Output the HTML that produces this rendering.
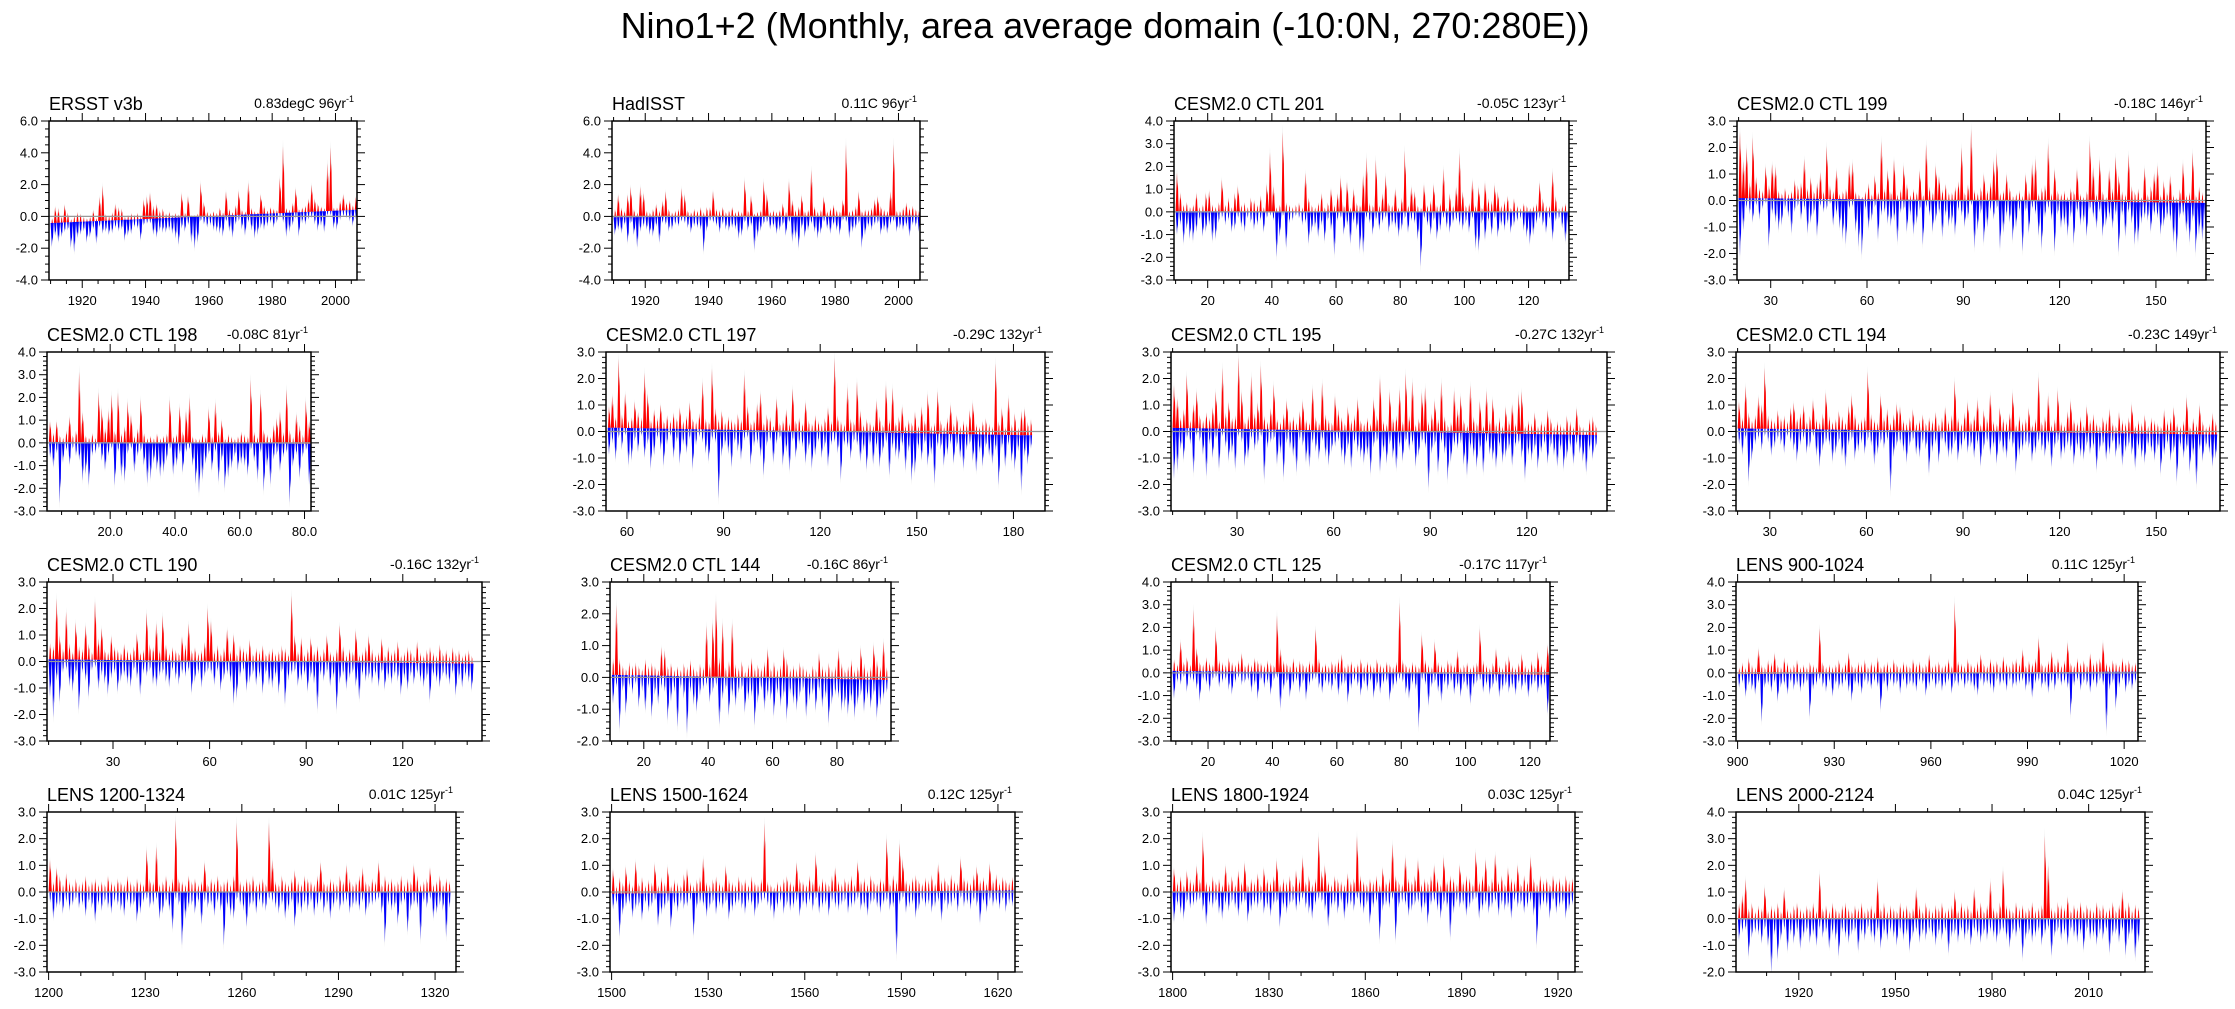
<!DOCTYPE html>
<html><head><meta charset="utf-8"><title>Nino1+2 monthly panels</title>
<style>
html,body{margin:0;padding:0;background:#fff;}
svg{display:block;font-family:"Liberation Sans",Arial,sans-serif;}
</style></head>
<body>
<svg id="fig" xmlns="http://www.w3.org/2000/svg" width="2235" height="1009" viewBox="0 0 2235 1009">
<rect x="0" y="0" width="2235" height="1009" fill="#fff"/>
<text x="1105" y="38" font-size="36" text-anchor="middle" fill="#000">Nino1+2 (Monthly, area average domain (-10:0N, 270:280E))</text>
</svg>
<script>
// ---- data: annual warm peaks (max) and cold troughs (min), relative to trend line ----
const ersstMax=[0.3,1.0,0.9,0.4,1.1,0.6,0.2,0.4,0.6,0.5,0.3,0.2,0.3,0.7,0.2,1.5,2.2,0.4,0.3,0.5,1.0,0.8,0.7,0.2,0.3,0.4,0.3,0.4,0.2,1.2,1.4,1.6,0.8,0.9,0.5,0.6,0.3,0.4,0.2,0.3,0.2,1.5,0.3,1.3,0.1,0.1,0.2,2.1,0.9,0.3,0.2,0.3,0.2,0.5,0.2,1.5,0.4,0.2,0.6,1.5,0.3,0.2,2.0,0.4,0.2,0.1,1.2,0.5,0.2,0.4,0.3,0.2,2.2,4.2,0.3,0.2,0.6,1.5,0.2,0.3,0.4,0.8,1.7,0.8,0.5,0.3,0.2,3.0,4.0,0.2,0.2,0.6,1.0,0.5,0.6,0.3,0.8];
const ersstMin=[-1.5,-0.8,-1.2,-0.9,-0.6,-0.5,-1.6,-1.9,-1.0,-0.8,-0.6,-1.3,-1.0,-0.5,-1.4,-0.4,-0.8,-0.7,-0.9,-0.8,-0.5,-0.7,-0.6,-1.3,-1.0,-0.9,-0.5,-0.6,-1.3,-0.4,-0.3,-0.3,-1.0,-1.2,-0.8,-0.9,-0.9,-0.8,-1.0,-1.3,-1.7,-0.7,-0.9,-0.5,-1.6,-2.0,-1.6,-0.3,-0.5,-0.7,-0.6,-0.9,-1.0,-1.1,-1.3,-0.4,-1.0,-1.4,-0.6,-0.4,-0.9,-1.3,-0.5,-1.0,-1.5,-1.3,-0.9,-1.0,-0.8,-0.6,-0.9,-0.6,-0.3,-0.6,-1.5,-1.2,-0.8,-0.4,-1.5,-0.7,-0.8,-0.5,-0.4,-0.8,-1.2,-0.9,-1.3,-0.3,-0.3,-1.1,-1.2,-0.6,-0.4,-0.5,-0.7,-1.0,-0.6];
const hadMax=[0.5,1.4,0.6,0.4,1.4,1.9,0.5,0.3,1.9,1.5,0.4,0.3,0.5,0.8,0.4,1.0,1.6,0.5,0.3,0.4,0.5,1.8,1.4,0.4,0.3,0.5,0.4,0.6,0.3,0.6,0.6,1.6,0.5,0.4,0.6,0.3,0.4,0.6,0.3,0.4,0.3,2.3,0.4,1.3,0.2,0.3,0.4,2.2,1.4,0.3,0.4,0.3,0.4,0.8,0.3,2.2,1.0,0.4,0.6,1.3,0.3,0.4,2.9,0.6,0.3,0.4,1.2,0.3,0.5,0.7,0.4,0.3,1.0,4.5,0.3,0.4,0.6,1.5,0.3,0.4,0.4,0.5,1.0,1.2,0.6,0.4,0.3,1.5,4.5,0.3,0.3,0.5,0.8,0.5,0.6,0.4,0.3];
const hadMin=[-1.1,-0.8,-1.0,-0.5,-1.6,-0.4,-1.1,-1.9,-0.9,-0.6,-0.8,-1.1,-1.2,-0.6,-1.6,-0.4,-0.5,-0.9,-0.8,-0.5,-0.6,-0.3,-0.4,-0.7,-1.0,-0.6,-0.7,-0.8,-2.2,-0.9,-0.3,-0.4,-0.6,-1.0,-0.5,-0.8,-0.9,-0.7,-0.8,-1.4,-1.2,-0.4,-0.9,-0.6,-2.1,-1.3,-0.9,-0.5,-0.4,-0.8,-0.7,-1.1,-0.9,-0.6,-1.2,-0.4,-1.6,-1.4,-2.0,-0.8,-1.3,-0.9,-0.5,-1.0,-1.4,-1.1,-0.4,-0.8,-1.1,-0.6,-0.9,-1.2,-0.3,-0.4,-1.4,-1.0,-0.8,-0.5,-2.0,-1.2,-0.7,-0.9,-0.6,-0.5,-1.2,-0.9,-1.1,-0.6,-0.4,-1.0,-0.8,-0.9,-0.7,-1.3,-0.6,-0.7,-1.0];
const c201Max=[1.7,0.8,0.3,0.4,0.2,0.3,0.8,0.2,0.3,0.8,0.9,0.3,0.2,0.4,1.4,0.3,0.6,0.2,0.8,1.1,0.3,0.4,0.2,0.6,0.5,0.3,0.7,0.2,1.2,2.6,1.1,0.2,0.3,3.5,0.4,0.3,0.2,0.3,0.4,0.2,1.7,0.6,0.3,0.2,0.4,0.8,0.2,0.4,1.0,0.3,0.8,1.5,0.3,1.3,0.2,1.0,0.4,0.3,1.6,2.4,0.4,0.3,2.3,0.3,0.8,1.6,0.4,0.3,1.0,0.2,0.6,2.7,0.3,1.1,0.9,0.3,0.2,1.2,0.3,0.5,1.2,0.3,0.4,1.9,0.2,0.8,0.3,1.1,2.6,0.9,0.3,0.4,1.4,0.3,1.1,0.2,1.3,0.6,0.5,1.2,0.9,0.3,0.5,0.7,0.2,0.6,0.3,0.2,0.4,0.3,0.2,0.3,0.4,1.3,0.6,0.3,0.3,1.8,0.7,0.2,0.3,0.4,0.2];
const c201Min=[-1.0,-0.6,-1.4,-0.8,-1.2,-1.3,-0.9,-0.4,-1.1,-0.9,-0.6,-1.3,-1.2,-0.5,-0.3,-0.6,-0.4,-0.9,-0.8,-0.3,-0.7,-0.9,-0.3,-0.5,-0.8,-0.6,-0.4,-0.9,-0.3,-0.2,-0.4,-2.0,-1.1,-0.2,-1.6,-0.5,-0.4,-0.2,-0.3,-0.6,-0.5,-1.4,-0.9,-0.7,-1.1,-0.6,-1.3,-0.4,-0.8,-1.9,-0.4,-0.3,-1.0,-0.6,-1.4,-0.5,-0.8,-1.7,-1.8,-0.3,-0.5,-1.0,-0.4,-0.8,-0.5,-0.3,-0.9,-0.6,-0.7,-1.1,-0.8,-0.3,-0.9,-0.4,-0.5,-1.2,-2.4,-0.3,-0.6,-1.0,-0.4,-1.2,-0.8,-0.3,-0.7,-0.9,-0.5,-0.4,-0.6,-0.8,-0.5,-0.9,-0.3,-1.6,-1.7,-0.5,-1.2,-0.4,-1.0,-0.3,-1.1,-0.6,-0.8,-0.5,-0.9,-0.6,-0.4,-0.3,-0.8,-1.1,-1.4,-1.0,-0.5,-0.3,-0.6,-0.9,-0.3,-1.2,-0.4,-0.3,-0.7,-1.3,-0.9];
const c199Max=[2.5,1.4,1.9,0.6,2.3,0.8,0.4,0.3,1.2,0.5,1.3,1.2,0.3,0.2,0.4,0.2,0.3,0.7,0.5,0.6,1.5,0.4,0.8,0.3,0.6,1.0,0.3,2.0,0.5,0.3,1.1,0.2,0.3,0.4,1.3,1.4,0.3,0.2,0.1,0.3,0.6,0.2,0.9,0.3,2.2,0.4,1.1,0.3,1.5,0.2,0.4,1.3,0.6,0.2,0.4,0.3,1.1,0.2,2.1,0.5,0.3,1.3,0.9,0.4,0.6,0.3,0.3,0.5,0.7,2.0,0.3,0.6,2.7,0.4,0.3,0.5,1.0,0.4,0.7,1.5,1.8,0.3,0.4,1.0,0.5,0.2,0.3,0.4,0.2,1.0,0.4,1.4,1.6,0.3,0.5,0.6,2.2,0.3,1.2,0.4,0.3,0.4,0.2,0.5,0.4,1.2,0.3,0.2,0.4,2.3,1.3,0.3,1.6,0.4,0.2,1.2,0.5,1.7,1.0,0.4,0.3,1.8,0.6,0.4,0.5,0.2,1.3,0.3,0.6,1.1,1.4,0.3,0.8,0.4,1.0,0.3,0.2,0.5,1.5,0.3,0.4,1.9,0.3,0.6,0.4,0.3];
const c199Min=[-2.2,-1.2,-0.4,-0.6,-0.9,-0.3,-0.8,-0.4,-0.2,-1.8,-0.6,-0.9,-1.2,-1.0,-0.4,-0.7,-1.3,-0.5,-0.3,-0.8,-0.4,-1.3,-0.9,-0.6,-1.4,-0.3,-0.5,-0.4,-0.2,-1.0,-0.6,-1.1,-1.5,-1.7,-0.4,-0.3,-1.2,-1.8,-2.1,-0.4,-1.1,-0.8,-0.3,-1.5,-0.6,-0.5,-0.9,-1.0,-0.8,-1.6,-0.5,-0.4,-1.2,-0.6,-1.3,-0.9,-0.4,-1.7,-0.3,-0.6,-1.2,-0.8,-0.5,-1.4,-0.6,-1.0,-0.9,-1.3,-0.4,-0.6,-1.0,-0.7,-0.2,-1.8,-1.1,-0.5,-1.6,-1.0,-0.4,-0.7,-0.3,-1.8,-1.2,-0.6,-0.8,-1.5,-1.0,-0.4,-1.9,-0.4,-1.2,-0.3,-0.5,-1.3,-1.8,-0.6,-0.3,-0.7,-1.9,-0.5,-1.0,-0.9,-1.3,-0.6,-1.6,-0.4,-0.9,-0.8,-1.3,-0.3,-0.6,-1.0,-0.4,-1.3,-0.9,-0.6,-1.0,-0.5,-1.9,-0.5,-1.3,-0.4,-0.8,-1.6,-1.5,-0.8,-0.6,-0.7,-1.1,-0.5,-0.6,-1.2,-0.9,-0.6,-0.7,-1.5,-1.9,-0.6,-0.5,-1.1,-1.5,-0.7,-1.9,-1.2,-1.4,-1.0];
const c198Max=[0.9,0.4,0.9,0.3,0.2,0.5,1.1,0.3,0.5,3.1,1.3,0.3,0.2,0.4,0.2,2.2,1.5,0.6,1.4,2.1,0.5,2.2,0.4,0.7,1.8,1.2,0.3,0.6,1.9,0.4,0.2,0.3,0.2,0.4,0.2,0.3,0.4,1.9,0.3,0.4,1.6,0.5,1.4,2.0,0.3,0.2,0.2,0.4,0.3,1.5,0.3,1.8,0.5,1.0,0.2,0.4,0.3,0.2,0.3,0.5,0.4,0.3,2.8,0.5,0.3,2.2,0.6,0.4,0.3,0.8,1.1,1.4,0.5,2.4,0.6,0.3,1.3,0.8,0.4,1.9,1.0];
const c198Min=[-0.7,-1.1,-0.5,-2.7,-0.9,-0.4,-1.0,-0.3,-0.6,-0.8,-1.7,-1.4,-1.9,-0.6,-0.5,-0.3,-0.8,-1.2,-0.6,-0.3,-1.9,-0.4,-1.5,-1.7,-0.5,-0.3,-1.3,-0.6,-0.4,-1.0,-1.8,-1.6,-0.9,-1.2,-1.5,-1.3,-0.8,-0.3,-1.4,-1.0,-0.5,-1.3,-0.4,-0.3,-1.0,-1.8,-2.2,-1.6,-0.9,-0.5,-1.2,-0.4,-1.7,-0.8,-2.0,-1.5,-1.1,-0.6,-1.2,-0.9,-1.0,-1.4,-0.3,-0.8,-1.6,-0.4,-2.1,-1.0,-1.8,-0.7,-0.5,-1.2,-0.6,-0.4,-2.6,-1.0,-0.5,-1.5,-0.6,-0.3,-1.8];
const c197Max=[0.8,1.2,0.4,2.6,0.5,1.3,0.3,0.4,1.0,0.6,0.4,2.1,1.3,0.3,0.7,0.4,0.9,0.3,0.5,0.3,0.6,0.4,0.8,0.3,0.5,1.0,0.4,0.3,0.6,1.8,0.4,0.3,2.3,0.8,0.4,0.7,0.3,0.5,0.4,0.3,0.6,0.4,2.1,0.9,0.3,0.4,1.0,1.4,0.3,0.6,0.5,0.2,1.2,0.3,0.4,0.8,0.3,1.6,0.4,0.5,0.3,1.1,0.4,0.3,0.6,0.4,0.3,0.5,0.9,0.4,2.8,0.6,0.4,0.3,1.7,0.5,0.4,1.9,0.8,0.3,0.5,0.4,0.3,1.2,0.6,0.3,1.8,0.5,1.7,0.4,0.6,1.0,0.3,0.5,0.4,0.8,0.3,1.0,0.5,1.5,0.3,0.4,1.6,0.5,0.3,0.6,1.1,0.4,0.7,0.3,0.5,0.4,0.9,1.2,0.4,0.3,0.5,0.6,0.4,0.3,2.7,0.5,1.0,0.3,1.4,0.4,0.8,0.3,0.9,1.0,0.5,0.6];
const c197Min=[-1.0,-0.6,-1.2,-0.4,-0.8,-0.3,-1.4,-1.2,-0.5,-0.9,-0.3,-1.1,-0.6,-1.5,-1.0,-0.4,-0.8,-1.4,-0.6,-0.3,-1.1,-0.5,-1.3,-0.6,-0.9,-0.4,-1.5,-0.6,-0.3,-0.5,-0.9,-1.2,-0.4,-0.5,-2.6,-1.0,-0.6,-0.9,-1.4,-0.5,-0.8,-1.1,-0.4,-0.3,-1.3,-0.6,-0.5,-1.0,-1.7,-0.6,-0.4,-1.2,-0.5,-0.3,-1.3,-0.8,-1.5,-0.4,-1.0,-0.5,-0.6,-1.2,-0.7,-1.4,-0.9,-0.4,-1.0,-0.6,-1.3,-0.5,-0.4,-0.8,-1.8,-0.5,-0.6,-1.0,-0.4,-0.5,-1.1,-0.7,-1.4,-0.5,-1.2,-0.6,-1.3,-0.8,-0.4,-1.6,-0.6,-0.9,-1.0,-0.5,-1.4,-0.7,-1.8,-1.5,-0.6,-1.0,-0.4,-1.2,-0.8,-1.9,-0.5,-0.6,-1.2,-0.8,-0.4,-1.1,-0.5,-0.9,-1.3,-0.6,-0.4,-1.0,-1.4,-0.7,-1.2,-0.5,-0.8,-1.1,-0.6,-1.9,-0.5,-1.2,-0.4,-1.0,-1.3,-0.6,-2.1,-0.8,-1.1,-0.5];
const c195Max=[1.6,1.1,0.4,0.7,2.0,0.3,0.9,1.4,0.5,0.3,0.6,0.4,0.8,1.4,0.3,2.3,0.6,1.0,0.4,0.5,2.7,1.4,0.3,0.5,2.0,0.6,1.0,2.4,0.5,0.3,0.8,1.7,0.4,0.3,0.6,1.1,0.4,0.5,0.3,0.7,1.1,0.4,0.3,1.6,0.5,0.3,1.8,0.6,0.4,0.3,1.3,0.8,0.5,0.3,0.9,0.4,0.6,1.2,0.4,0.3,0.5,0.3,1.2,0.6,2.0,0.4,0.3,1.5,0.5,0.6,1.6,0.4,2.2,0.6,1.9,0.3,0.5,1.5,1.7,0.4,0.7,1.2,0.5,1.9,0.6,0.3,0.4,1.6,0.9,1.4,0.5,0.3,1.8,0.6,0.4,1.2,0.3,1.6,0.5,1.3,0.4,0.6,0.3,1.0,0.5,1.1,0.4,1.5,1.6,0.3,0.5,0.4,0.8,0.3,0.5,0.4,0.9,0.6,0.3,0.5,0.4,0.3,0.7,0.5,0.3,1.0,0.4,0.3,0.2,0.6,0.7,0.4];
const c195Min=[-1.9,-1.6,-0.8,-1.2,-0.4,-0.6,-1.7,-0.3,-0.5,-1.0,-1.8,-0.6,-1.1,-0.4,-1.5,-0.3,-0.7,-1.2,-0.9,-1.5,-0.3,-0.5,-1.4,-1.1,-0.4,-0.8,-0.6,-0.3,-1.9,-0.7,-0.5,-0.4,-1.3,-0.9,-1.8,-0.5,-0.7,-1.0,-1.6,-0.4,-0.6,-1.2,-1.4,-0.5,-0.8,-1.1,-0.4,-1.0,-1.3,-0.8,-0.6,-0.4,-1.0,-1.3,-0.7,-1.4,-0.5,-0.8,-1.0,-1.2,-0.9,-1.6,-0.6,-0.4,-1.5,-0.8,-1.2,-0.5,-1.0,-1.4,-0.6,-1.1,-0.4,-0.7,-0.5,-1.3,-0.9,-0.4,-0.6,-2.1,-0.8,-0.5,-1.5,-0.4,-0.8,-1.8,-1.1,-0.5,-0.6,-0.4,-1.2,-1.6,-0.6,-0.9,-1.3,-0.7,-1.5,-0.4,-0.8,-1.0,-1.3,-0.5,-1.1,-0.9,-0.6,-1.2,-0.5,-0.4,-0.9,-1.7,-0.8,-1.0,-0.6,-1.3,-0.7,-0.4,-1.1,-0.5,-0.8,-1.2,-0.6,-1.3,-0.9,-0.5,-1.1,-0.4,-0.7,-1.0,-1.4,-0.6,-0.9,-0.5];
const c194Max=[1.0,0.4,1.6,0.6,0.3,0.5,1.2,0.9,2.3,0.5,0.4,0.3,0.7,0.4,0.5,0.3,0.8,1.0,0.4,0.6,0.9,0.3,0.5,1.1,0.4,0.3,0.6,1.4,0.5,0.3,0.4,0.7,0.5,0.3,0.9,1.3,0.6,0.3,0.4,0.5,2.2,0.6,0.4,0.3,1.3,0.5,0.8,0.3,0.6,1.0,0.9,0.4,0.3,0.5,0.8,0.3,0.4,0.6,0.3,0.5,0.4,0.7,0.3,0.5,0.9,0.4,0.6,1.9,0.5,0.3,0.7,1.1,0.4,0.6,1.2,0.3,0.8,0.5,1.4,0.4,0.3,0.9,0.5,0.4,0.7,1.5,0.3,0.6,0.4,0.5,0.9,0.3,0.5,2.1,0.4,0.6,1.4,0.3,0.5,1.6,0.4,0.3,0.8,1.2,0.5,0.4,0.6,0.3,1.0,0.5,0.7,0.4,0.3,0.6,0.5,0.9,0.4,0.3,0.8,0.5,0.4,0.6,1.1,0.3,0.5,0.4,0.7,0.3,0.6,0.5,0.4,0.3,0.9,0.5,0.6,1.0,0.4,0.3,0.5,1.4,0.3,0.6,0.4,1.1,0.5,0.3,0.4,0.8,0.5];
const c194Min=[-0.6,-1.0,-0.4,-2.0,-1.2,-0.6,-0.4,-0.8,-0.3,-0.5,-1.0,-0.7,-0.4,-0.6,-0.9,-0.3,-0.5,-0.8,-1.2,-0.6,-0.4,-0.9,-0.7,-0.3,-1.0,-1.4,-0.8,-0.5,-0.6,-1.2,-0.9,-0.5,-1.0,-1.4,-0.6,-0.4,-1.1,-0.8,-0.5,-0.9,-0.4,-0.6,-1.3,-0.9,-0.5,-0.7,-0.4,-2.3,-1.0,-0.6,-0.5,-0.8,-1.2,-0.6,-0.4,-0.9,-1.0,-0.5,-0.7,-1.6,-0.8,-0.5,-1.2,-0.4,-0.6,-1.0,-0.9,-0.5,-1.1,-0.7,-0.4,-0.8,-0.6,-1.0,-0.5,-1.3,-0.7,-0.4,-0.9,-0.6,-1.2,-0.5,-0.8,-1.0,-0.4,-0.6,-1.5,-0.9,-0.7,-0.5,-0.6,-1.1,-0.8,-0.4,-0.7,-0.9,-0.5,-1.3,-0.6,-0.4,-1.0,-0.8,-0.5,-0.7,-1.2,-0.6,-0.9,-1.0,-0.5,-0.8,-0.6,-1.4,-0.7,-0.5,-1.0,-0.8,-0.4,-0.9,-0.6,-1.2,-0.7,-0.5,-0.8,-1.3,-0.6,-0.9,-1.1,-0.5,-0.7,-1.0,-0.6,-1.5,-0.8,-0.4,-1.0,-0.7,-1.8,-0.5,-0.9,-0.6,-1.4,-0.8,-1.9,-0.6,-1.0,-0.5,-0.7,-1.2,-0.9];
const c190Max=[0.6,0.5,2.3,0.9,0.4,1.8,0.6,0.3,1.4,0.5,0.4,1.3,0.6,0.3,2.2,0.8,1.2,0.4,0.3,0.9,0.5,0.4,0.3,0.6,0.4,0.3,0.5,1.0,0.3,0.4,1.8,0.6,0.5,1.4,0.4,1.7,0.6,0.3,0.5,0.4,0.3,0.9,0.6,1.4,0.4,0.5,0.3,0.4,0.7,2.0,1.5,0.4,0.6,0.3,0.5,1.2,0.4,1.0,0.3,0.6,0.5,0.4,0.8,0.3,0.5,0.4,0.6,0.3,0.4,0.5,0.3,0.4,0.6,0.5,0.3,2.5,1.0,0.4,0.9,0.3,0.5,0.9,0.4,0.6,0.3,0.5,1.0,0.4,0.3,0.5,1.4,0.6,0.3,0.5,0.4,1.2,0.3,0.4,0.6,1.0,0.5,0.3,0.4,0.9,0.3,0.6,0.4,0.5,0.8,0.3,0.4,0.6,0.5,0.3,0.8,0.4,0.3,0.5,0.6,0.4,0.3,0.7,0.4,0.5,0.3,0.6,0.4,0.5,0.3,0.4,0.5,0.3];
const c190Min=[-1.4,-2.2,-0.8,-1.6,-0.5,-0.4,-1.0,-1.2,-0.6,-1.9,-0.5,-0.8,-1.4,-0.4,-0.3,-1.1,-0.6,-0.9,-1.3,-0.7,-0.5,-1.2,-0.8,-0.6,-0.9,-1.0,-0.4,-0.7,-1.3,-0.5,-0.6,-0.4,-0.9,-1.0,-0.6,-0.5,-0.8,-1.0,-0.4,-0.7,-0.9,-0.5,-0.6,-0.4,-1.2,-0.8,-0.5,-1.0,-0.6,-0.4,-0.5,-0.9,-0.4,-1.1,-0.7,-0.5,-0.8,-1.6,-1.4,-0.6,-0.4,-1.1,-0.8,-0.5,-0.9,-0.6,-1.2,-0.5,-0.9,-1.0,-0.6,-1.2,-0.4,-1.6,-0.7,-0.5,-0.4,-0.9,-0.7,-0.5,-1.1,-0.6,-0.8,-1.8,-0.5,-0.7,-0.4,-0.9,-0.6,-1.8,-0.8,-0.5,-1.0,-0.6,-0.4,-0.9,-1.4,-0.5,-0.7,-0.6,-0.8,-0.5,-0.9,-0.4,-1.0,-0.6,-0.8,-0.5,-0.7,-1.2,-0.6,-1.0,-0.5,-0.8,-0.4,-0.7,-0.9,-0.6,-1.4,-0.5,-0.7,-0.9,-0.5,-0.6,-0.8,-0.4,-1.2,-0.6,-0.9,-0.5,-0.7,-1.0];
const c144Max=[0.5,2.2,0.5,0.3,0.2,0.4,0.3,0.4,0.3,0.2,0.5,0.3,0.4,0.3,0.2,0.9,0.8,0.3,0.4,0.2,0.3,0.2,0.4,0.3,0.5,0.3,0.2,0.4,0.3,1.6,0.4,1.7,2.4,0.6,1.7,0.3,0.5,1.7,0.4,0.3,0.5,0.2,0.4,0.6,0.3,0.4,0.3,0.5,0.9,0.3,0.5,0.3,0.4,0.9,0.6,0.3,0.4,0.3,0.5,0.4,0.3,0.2,0.4,0.3,0.8,0.4,0.3,0.5,0.3,0.4,0.9,0.5,0.3,0.4,0.6,0.3,0.4,1.0,0.5,0.3,0.4,1.1,0.6,0.4,1.2,0.4];
const c144Min=[-0.9,-0.4,-1.7,-0.5,-1.2,-0.4,-0.6,-0.3,-1.0,-0.5,-1.1,-0.4,-1.3,-0.6,-0.9,-0.4,-0.5,-1.4,-0.8,-0.5,-1.6,-0.4,-0.7,-1.8,-0.5,-0.9,-1.1,-0.6,-0.4,-0.3,-0.8,-0.5,-0.3,-1.5,-0.7,-0.4,-1.2,-0.6,-0.9,-0.5,-0.4,-1.1,-0.7,-0.6,-1.5,-0.8,-0.4,-1.0,-0.6,-0.7,-1.2,-0.5,-0.9,-0.6,-1.3,-0.5,-0.8,-1.0,-0.6,-0.4,-1.2,-0.7,-0.5,-1.0,-0.4,-0.9,-0.6,-1.4,-0.8,-0.5,-0.6,-1.0,-0.9,-1.1,-0.7,-1.2,-0.8,-0.5,-1.0,-0.6,-0.9,-0.5,-1.2,-0.8,-0.6,-0.4];
const c125Max=[0.5,0.3,1.3,0.4,0.6,0.3,2.7,1.0,0.4,0.3,0.6,0.4,0.3,1.8,0.5,0.4,0.3,0.6,0.4,0.3,0.5,0.8,0.3,0.4,0.3,0.6,0.5,0.4,0.3,0.5,0.4,0.3,2.5,1.0,0.5,0.4,0.3,0.6,0.3,0.5,0.4,0.3,0.5,0.4,1.9,0.6,0.3,0.4,0.3,0.5,0.4,0.6,0.8,0.3,0.4,0.5,0.3,0.4,0.6,0.3,0.5,0.4,0.3,0.6,0.4,0.3,0.5,0.4,0.3,0.5,3.1,0.6,0.4,0.3,0.5,0.4,0.3,1.7,0.6,0.4,0.3,1.4,0.5,0.4,0.3,0.6,0.5,0.4,1.0,0.3,0.4,0.5,0.3,0.4,0.5,2.0,0.6,0.4,0.3,0.5,1.1,0.4,0.3,0.6,0.8,0.4,0.3,0.5,0.9,0.4,0.3,0.6,0.4,1.0,0.5,0.3,1.3];
const c125Min=[-1.2,-0.5,-0.6,-0.3,-0.9,-0.4,-0.5,-0.8,-1.3,-0.4,-0.6,-0.9,-0.4,-0.3,-0.7,-0.5,-0.4,-0.8,-1.0,-0.5,-0.3,-0.6,-0.5,-0.4,-0.9,-0.6,-1.2,-0.4,-0.7,-0.5,-1.0,-0.4,-0.3,-1.6,-0.8,-0.5,-1.1,-0.6,-0.4,-0.9,-0.5,-1.2,-0.6,-0.4,-0.3,-0.7,-0.9,-0.5,-0.6,-0.8,-0.4,-1.0,-0.6,-0.5,-1.3,-0.7,-0.4,-0.6,-1.0,-0.5,-0.8,-0.4,-1.1,-0.6,-0.9,-0.5,-0.4,-1.2,-0.7,-0.5,-0.3,-0.4,-0.9,-1.1,-0.5,-0.7,-2.4,-0.3,-0.5,-1.4,-0.6,-0.4,-0.8,-1.2,-0.5,-0.7,-0.4,-0.9,-0.6,-1.0,-0.5,-0.7,-1.3,-0.6,-0.4,-0.3,-0.8,-0.5,-0.9,-0.6,-0.4,-1.0,-0.7,-0.5,-0.8,-0.6,-0.9,-0.4,-0.7,-0.5,-1.0,-0.6,-0.4,-0.8,-0.6,-0.5,-1.7];
const l900Max=[0.3,0.5,0.3,0.7,0.4,0.3,1.1,0.4,0.3,0.6,0.5,0.9,0.4,0.3,0.7,0.5,0.3,0.4,0.6,0.3,0.4,0.3,0.5,0.4,0.3,2.0,0.5,0.3,0.4,0.3,0.4,0.6,0.3,0.5,0.9,0.4,0.3,0.5,0.4,0.6,0.3,0.5,0.4,0.7,0.3,0.4,0.5,0.3,0.6,0.4,0.3,0.5,0.4,0.3,0.6,0.4,0.5,0.3,0.4,0.8,0.3,0.4,0.5,0.3,0.4,0.6,0.3,3.1,0.5,0.4,0.3,0.6,0.4,0.3,0.5,0.8,0.4,0.3,0.6,0.4,0.5,0.3,0.7,0.4,0.3,0.5,0.6,0.4,1.0,0.3,0.5,0.4,0.6,1.5,0.4,0.3,0.5,0.9,0.4,0.6,0.3,0.5,1.3,0.4,0.3,0.6,0.4,0.5,0.3,0.8,0.4,0.5,0.6,1.3,0.4,0.3,0.5,0.4,0.3,0.6,0.4,0.5,0.3,0.4,0.5];
const l900Min=[-0.6,-0.4,-1.0,-0.5,-0.7,-0.9,-0.4,-2.1,-0.6,-0.5,-0.8,-0.4,-1.2,-0.6,-0.5,-0.9,-0.4,-0.7,-0.5,-0.8,-0.6,-0.4,-1.9,-0.7,-0.5,-0.3,-0.6,-0.8,-0.4,-1.0,-0.5,-0.7,-0.6,-0.4,-0.8,-1.2,-0.5,-0.6,-0.9,-0.4,-0.5,-0.7,-0.4,-0.6,-1.6,-0.5,-0.8,-0.4,-0.6,-0.5,-0.9,-0.4,-0.7,-0.5,-0.6,-0.8,-0.4,-0.5,-1.0,-0.6,-0.4,-0.7,-0.5,-0.8,-0.6,-0.4,-0.9,-0.5,-0.6,-0.4,-0.7,-0.5,-0.6,-0.8,-1.0,-0.4,-0.6,-0.5,-0.7,-0.9,-0.4,-0.6,-0.5,-0.8,-0.4,-0.7,-0.6,-0.5,-0.4,-0.8,-0.6,-1.1,-0.5,-0.4,-0.7,-0.6,-0.9,-0.5,-0.8,-0.4,-0.6,-0.5,-0.7,-1.9,-0.6,-0.4,-0.8,-0.5,-0.6,-0.9,-0.5,-0.7,-0.4,-0.6,-2.6,-0.8,-0.5,-1.6,-0.7,-0.4,-0.9,-0.6,-0.8,-0.5,-0.7];
const l1200Max=[1.2,0.4,0.9,0.6,0.3,0.7,0.4,0.3,0.5,0.3,0.4,0.6,0.3,0.4,0.5,0.3,0.4,0.3,0.6,0.4,0.3,0.5,0.4,0.3,0.6,0.4,0.3,0.5,0.4,0.3,1.6,0.5,0.4,1.7,0.3,0.4,0.6,0.3,0.5,2.7,0.5,0.4,0.3,0.6,0.4,0.5,0.3,0.4,1.1,0.3,0.5,0.4,0.6,0.3,0.4,0.5,0.3,0.6,2.6,0.4,0.3,0.5,0.4,0.6,0.3,0.4,0.5,0.3,2.6,1.2,0.4,0.3,0.6,0.4,0.3,0.5,0.8,0.4,0.3,0.6,0.5,0.4,0.3,0.6,1.1,0.4,0.3,0.5,0.4,0.3,0.6,0.4,1.0,0.5,0.3,0.4,0.6,0.9,0.4,0.3,0.5,0.4,1.1,0.3,0.6,0.4,0.5,0.3,0.4,0.6,0.3,0.5,0.4,1.0,0.6,0.3,0.4,0.5,0.9,0.3,0.4,0.6,0.3,0.5,0.4];
const l1200Min=[-0.4,-1.0,-0.6,-0.5,-0.8,-0.4,-0.7,-0.5,-0.3,-0.6,-0.5,-0.9,-0.4,-0.6,-1.1,-0.5,-0.7,-0.4,-0.6,-0.8,-0.4,-0.5,-0.7,-0.9,-0.4,-0.6,-0.5,-1.1,-0.8,-0.4,-0.3,-0.6,-0.5,-0.3,-1.0,-0.8,-0.4,-0.7,-1.4,-0.3,-0.5,-2.0,-1.0,-0.6,-0.5,-0.8,-0.4,-1.2,-0.4,-0.6,-0.5,-0.9,-0.4,-0.7,-2.0,-0.6,-0.9,-1.0,-0.3,-0.5,-0.7,-1.3,-0.6,-0.5,-0.8,-0.4,-0.6,-0.7,-0.3,-0.4,-0.6,-0.8,-0.5,-1.0,-0.7,-0.4,-1.3,-0.6,-0.8,-0.5,-0.7,-0.4,-0.9,-0.6,-0.4,-0.8,-0.5,-1.0,-0.6,-0.4,-0.7,-0.5,-0.4,-0.8,-0.6,-0.5,-0.7,-0.4,-0.9,-0.6,-0.5,-0.4,-0.3,-0.8,-1.9,-0.5,-0.7,-0.6,-1.2,-0.5,-0.4,-1.5,-0.7,-0.5,-0.6,-1.8,-0.4,-0.6,-0.3,-1.0,-0.8,-0.5,-0.7,-1.7,-0.6];
const l1500Max=[0.9,0.3,0.6,0.4,1.0,0.5,0.3,1.2,0.4,0.6,0.3,0.5,0.4,1.1,0.3,0.6,0.4,1.0,0.3,0.5,0.4,0.3,0.7,0.9,0.4,0.3,0.5,0.6,1.3,0.4,0.3,0.5,0.6,0.4,0.3,1.0,0.5,0.4,0.3,0.6,0.4,0.5,0.3,0.6,0.4,0.3,0.5,2.6,0.4,0.3,0.2,0.4,0.3,0.5,0.6,0.4,0.3,1.1,0.5,0.4,0.3,0.6,0.4,1.4,0.3,0.5,0.4,0.3,0.6,0.9,0.4,0.3,0.5,0.4,0.6,0.3,1.1,0.4,0.5,0.3,0.6,0.4,0.3,0.5,0.4,2.0,0.3,0.6,0.4,1.8,1.2,0.4,0.3,0.5,0.6,0.4,0.3,0.5,0.4,0.6,0.3,1.0,0.4,0.5,0.3,0.6,0.4,0.3,1.2,0.5,0.4,0.3,0.6,0.9,0.4,0.5,0.3,1.0,0.4,0.6,0.3,0.5,0.4,0.3,0.5];
const l1500Min=[-0.6,-0.4,-1.6,-0.8,-0.5,-0.4,-0.9,-0.6,-0.5,-1.0,-0.4,-0.7,-0.5,-0.3,-1.2,-0.8,-0.6,-0.4,-1.3,-0.5,-0.7,-0.4,-0.6,-0.5,-0.3,-1.6,-0.6,-0.4,-0.5,-0.9,-0.6,-0.4,-0.8,-0.5,-0.6,-0.4,-1.0,-0.7,-0.5,-0.4,-0.6,-0.8,-0.4,-0.5,-0.9,-0.6,-0.4,-0.3,-0.5,-0.7,-1.0,-0.6,-0.4,-0.8,-0.5,-0.7,-0.6,-0.4,-0.9,-0.5,-0.6,-0.4,-0.7,-0.3,-0.8,-0.6,-0.5,-0.9,-0.4,-0.6,-0.7,-0.5,-0.4,-0.8,-0.6,-0.5,-0.3,-0.7,-0.6,-0.9,-0.5,-0.4,-0.6,-0.8,-0.5,-0.4,-0.7,-0.6,-2.4,-0.5,-0.3,-0.8,-0.6,-0.5,-1.0,-0.7,-0.4,-0.6,-0.5,-0.8,-0.6,-0.4,-1.1,-0.5,-0.7,-0.6,-0.4,-0.8,-0.3,-0.6,-0.5,-0.7,-0.4,-0.6,-1.2,-0.5,-0.8,-0.4,-0.6,-0.5,-0.7,-0.4,-0.8,-0.5,-0.6];
const l1800Max=[0.9,0.4,0.6,0.3,0.8,0.5,0.4,1.0,0.5,2.1,0.4,0.3,0.6,0.4,0.5,0.3,1.0,0.4,0.6,0.3,0.8,0.4,1.1,0.3,0.5,0.4,0.7,0.3,0.9,0.5,0.4,0.6,1.2,0.3,0.5,0.4,0.6,0.3,0.8,0.5,1.3,0.4,0.6,0.3,0.5,2.1,0.8,1.0,0.4,0.3,0.6,0.5,0.4,0.3,0.7,0.4,0.5,2.1,0.6,0.4,0.3,0.5,0.4,0.6,0.3,0.9,0.4,0.5,1.8,0.6,0.4,0.3,1.3,0.5,0.4,0.6,1.2,0.3,0.5,0.4,0.6,1.0,0.5,0.3,1.3,0.4,0.6,0.5,0.3,1.0,0.4,0.6,0.5,0.3,1.5,0.4,0.6,1.2,0.3,0.5,1.4,0.4,0.6,0.3,0.9,0.5,0.4,1.0,0.3,0.6,0.4,1.3,0.5,0.3,0.6,0.4,0.5,0.3,0.6,0.4,0.5,0.3,0.6,0.4,0.5];
const l1800Min=[-1.1,-0.5,-0.8,-1.0,-0.4,-0.6,-0.5,-0.4,-0.3,-0.7,-1.2,-0.5,-0.6,-0.4,-0.8,-1.0,-0.5,-0.7,-0.4,-0.6,-0.9,-0.5,-0.4,-1.1,-0.7,-0.5,-0.6,-0.4,-0.8,-0.6,-0.9,-0.5,-0.4,-1.3,-0.6,-0.8,-0.5,-0.4,-0.7,-0.5,-0.3,-0.6,-0.8,-1.0,-0.5,-0.3,-0.4,-0.7,-1.3,-0.6,-0.5,-0.8,-0.4,-1.0,-0.6,-0.5,-0.7,-0.3,-0.6,-0.8,-0.5,-1.2,-0.6,-0.4,-1.8,-0.7,-0.5,-0.6,-0.3,-1.8,-0.6,-0.4,-0.5,-0.9,-0.7,-0.5,-0.4,-0.8,-0.6,-1.2,-0.5,-0.4,-0.7,-1.0,-0.5,-0.6,-1.7,-0.8,-0.4,-0.6,-0.5,-0.9,-0.6,-0.4,-0.3,-1.0,-0.7,-0.5,-0.8,-0.6,-0.4,-0.9,-0.5,-0.7,-0.6,-1.0,-0.4,-0.6,-0.5,-0.8,-0.6,-0.4,-0.9,-2.0,-0.7,-0.5,-0.6,-1.0,-0.4,-0.8,-0.6,-0.5,-1.0,-0.7,-0.5];
const l2000Max=[0.6,0.9,1.5,0.4,0.6,0.3,0.5,0.4,1.2,0.3,0.5,0.4,0.6,0.3,1.1,0.4,0.3,0.5,0.6,0.4,0.3,0.5,0.4,0.6,0.3,1.7,0.4,0.5,0.3,0.6,0.4,0.3,0.5,0.6,0.4,0.3,0.5,0.4,0.6,0.3,0.4,0.5,0.3,1.4,0.4,0.6,0.3,0.5,0.4,0.3,0.6,0.4,0.5,0.3,0.4,1.1,0.5,0.3,0.6,0.4,0.3,0.5,0.4,0.6,0.3,0.4,0.5,1.0,0.3,0.6,0.4,0.5,0.3,1.1,0.4,0.6,0.3,0.5,1.4,0.4,0.3,0.6,1.8,0.5,0.4,0.3,0.6,0.4,0.5,0.3,0.4,0.6,0.3,0.4,0.5,3.1,2.0,0.4,0.3,0.6,0.5,0.4,0.8,0.3,0.5,0.4,0.6,0.3,0.5,0.4,0.3,0.6,0.4,0.5,0.3,0.4,0.6,0.3,0.5,1.0,0.4,0.6,0.3,0.5,0.4];
const l2000Min=[-0.8,-0.5,-0.4,-1.4,-0.7,-0.5,-0.6,-0.9,-0.4,-1.0,-2.0,-0.6,-1.5,-0.8,-0.4,-1.2,-0.6,-0.9,-0.5,-1.1,-0.7,-0.5,-0.9,-0.6,-1.0,-0.4,-0.7,-0.5,-1.1,-0.6,-0.8,-1.4,-0.5,-0.7,-0.9,-0.6,-0.5,-1.2,-0.6,-0.8,-0.4,-0.7,-0.9,-0.5,-1.1,-0.6,-0.8,-0.5,-0.7,-1.0,-0.5,-0.8,-0.6,-1.2,-0.7,-0.5,-0.9,-0.6,-0.8,-0.5,-0.7,-1.0,-0.6,-0.8,-0.5,-1.3,-0.7,-0.6,-0.9,-0.5,-0.8,-0.6,-1.0,-0.5,-0.7,-0.9,-0.6,-0.8,-0.5,-0.7,-0.9,-0.6,-0.5,-0.8,-1.1,-0.6,-0.7,-0.5,-1.5,-0.8,-0.6,-0.9,-0.7,-0.5,-1.0,-0.6,-0.4,-1.4,-0.7,-0.5,-0.8,-0.6,-1.0,-0.5,-0.7,-0.9,-0.6,-1.2,-0.5,-0.8,-0.7,-1.0,-0.6,-0.8,-0.5,-1.3,-0.7,-0.6,-0.9,-0.5,-1.4,-0.8,-0.6,-1.5,-0.9];

// panel titles / trend labels / first data year
const titles=["ERSST v3b","HadISST","CESM2.0 CTL 201","CESM2.0 CTL 199","CESM2.0 CTL 198","CESM2.0 CTL 197","CESM2.0 CTL 195","CESM2.0 CTL 194","CESM2.0 CTL 190","CESM2.0 CTL 144","CESM2.0 CTL 125","LENS 900-1024","LENS 1200-1324","LENS 1500-1624","LENS 1800-1924","LENS 2000-2124"];
const trendVals=[0.83,0.11,-0.05,-0.18,-0.08,-0.29,-0.27,-0.23,-0.16,-0.16,-0.17,0.11,0.01,0.12,0.03,0.04];
const trendUnits=["degC","C","C","C","C","C","C","C","C","C","C","C","C","C","C","C"];
const yearCounts=[96,96,123,146,81,132,132,149,132,86,117,125,125,125,125,125];
const startYears=[1910,1910,10,20,1,54,10,20,10,10,9,900,1200,1500,1800,1901];
const maxSeries=[ersstMax,hadMax,c201Max,c199Max,c198Max,c197Max,c195Max,c194Max,c190Max,c144Max,c125Max,l900Max,l1200Max,l1500Max,l1800Max,l2000Max];
const minSeries=[ersstMin,hadMin,c201Min,c199Min,c198Min,c197Min,c195Min,c194Min,c190Min,c144Min,c125Min,l900Min,l1200Min,l1500Min,l1800Min,l2000Min];

// layout (pixel geometry + axis ranges)
const layout=[
 {L:49,R:357,T:121,B:280,x0:1909.5,x1:2006.8,y0:-4,y1:6,ym:2,yn:0.5,xm:20,xn:5,dec:0},
 {L:612,R:920,T:121,B:280,x0:1909.5,x1:2006.8,y0:-4,y1:6,ym:2,yn:0.5,xm:20,xn:5,dec:0},
 {L:1174,R:1569,T:121,B:280,x0:9.5,x1:132.6,y0:-3,y1:4,ym:1,yn:0.2,xm:20,xn:5,dec:0},
 {L:1737,R:2206,T:121,B:280,x0:19.5,x1:165.6,y0:-3,y1:3,ym:1,yn:0.2,xm:30,xn:10,dec:0},
 {L:47,R:311,T:352,B:511,x0:0.5,x1:82,y0:-3,y1:4,ym:1,yn:0.2,xm:20,xn:5,dec:1},
 {L:606,R:1045,T:352,B:511,x0:53.5,x1:189.8,y0:-3,y1:3,ym:1,yn:0.2,xm:30,xn:10,dec:0},
 {L:1171,R:1607,T:352,B:511,x0:9.5,x1:144.9,y0:-3,y1:3,ym:1,yn:0.2,xm:30,xn:10,dec:0},
 {L:1736,R:2220,T:352,B:511,x0:19.5,x1:169.8,y0:-3,y1:3,ym:1,yn:0.2,xm:30,xn:10,dec:0},
 {L:47,R:482,T:582,B:741,x0:9.5,x1:144.6,y0:-3,y1:3,ym:1,yn:0.2,xm:30,xn:10,dec:0},
 {L:610,R:891,T:582,B:741,x0:9.5,x1:96.8,y0:-2,y1:3,ym:1,yn:0.2,xm:20,xn:5,dec:0},
 {L:1171,R:1550,T:582,B:741,x0:8.5,x1:126.2,y0:-3,y1:4,ym:1,yn:0.2,xm:20,xn:5,dec:0},
 {L:1736,R:2138,T:582,B:741,x0:899.5,x1:1024.3,y0:-3,y1:4,ym:1,yn:0.2,xm:30,xn:10,dec:0},
 {L:47,R:456,T:812,B:972,x0:1199.5,x1:1326.5,y0:-3,y1:3,ym:1,yn:0.2,xm:30,xn:10,dec:0},
 {L:610,R:1015,T:812,B:972,x0:1499.5,x1:1625.3,y0:-3,y1:3,ym:1,yn:0.2,xm:30,xn:10,dec:0},
 {L:1171,R:1575,T:812,B:972,x0:1799.5,x1:1925.3,y0:-3,y1:3,ym:1,yn:0.2,xm:30,xn:10,dec:0},
 {L:1736,R:2145,T:812,B:972,x0:1900.5,x1:2027.5,y0:-2,y1:4,ym:1,yn:0.2,xm:30,xn:10,dec:0}
];

const NS="http://www.w3.org/2000/svg";
const fig=document.getElementById('fig');
function mk(tag,attrs,parent){const e=document.createElementNS(NS,tag);for(const k in attrs)e.setAttribute(k,attrs[k]);(parent||fig).appendChild(e);return e;}

layout.forEach((g,p)=>{
  const grp=mk('g',{});
  
  
  const xs=v=>g.L+(v-g.x0)/(g.x1-g.x0)*(g.R-g.L);
  const ys=v=>g.B-(v-g.y0)/(g.y1-g.y0)*(g.B-g.T);
  const cid='clip'+p;
  const defs=mk('defs',{},grp);
  mk('rect',{x:g.L,y:g.T,width:g.R-g.L,height:g.B-g.T},mk('clipPath',{id:cid},defs));
  const plot=mk('g',{'clip-path':'url(#'+cid+')'},grp);
  const mx=maxSeries[p],mn=minSeries[p],n=mx.length,tr=trendVals[p];
  const base=i=>tr*(i/(n-1)-0.5);
  const spike=(i,v,k)=>{
    const a0=xs(startYears[p]+i),b0=xs(startYears[p]+i+1),full=b0-a0;
    const frac=Math.max(0.3,Math.min(1,0.15+Math.abs(v)/1.3));
    const c=(a0+b0)/2,w=full*frac,a=c-w/2,b=c+w/2,bs=base(i),h=v*k;
    return [[a,ys(bs)],[a+w*0.2,ys(bs+h*0.45)],[a+w*0.42,ys(bs+h)],[a+w*0.55,ys(bs+h*0.6)],[a+w*0.7,ys(bs+h*0.75)],[a+w*0.85,ys(bs+h*0.3)],[b,ys(bs)]].map(q=>q[0].toFixed(1)+','+q[1].toFixed(1)).join(' ');
  };
  for(let i=0;i<n;i++){
    const gs=mk('polygon',{points:spike(i,mx[i],1.1),fill:'#cfcfcf'},plot);
    
    
    const gb=mk('polygon',{points:spike(i,mn[i],1.1),fill:'#cfcfcf'},plot);
    
    
  }
  for(let i=0;i<n;i++){
    const r=mk('polygon',{points:spike(i,mx[i],1),fill:'#ff0000'},plot);
    
    
    const bl=mk('polygon',{points:spike(i,mn[i],1),fill:'#0000ff'},plot);
    
    
  }
  const zl=mk('line',{x1:g.L,x2:g.R,y1:ys(0),y2:ys(0),stroke:'#999',"stroke-width":1.3},grp);
  
  
  const box=mk('rect',{x:g.L,y:g.T,width:g.R-g.L,height:g.B-g.T,fill:'none',stroke:'#000',"stroke-width":1.5},grp);
  
  
  const nyMin=Math.round((g.y1-g.y0)/g.yn);
  for(let k=0;k<=nyMin;k++){
    const v=g.y0+k*g.yn,y=ys(v),isMaj=Math.abs(v/g.ym-Math.round(v/g.ym))<1e-6,len=isMaj?8:4;
    mk('line',{x1:g.L,x2:g.L-len,y1:y,y2:y,stroke:'#000',"stroke-width":1},grp);
    mk('line',{x1:g.R,x2:g.R+len,y1:y,y2:y,stroke:'#000',"stroke-width":1},grp);
    if(isMaj){const t=mk('text',{x:g.L-11,y:y+4.5,"font-size":13,"text-anchor":"end"},grp);t.textContent=v.toFixed(1);
      
      }
  }
  for(let v=Math.ceil(g.x0/g.xn)*g.xn;v<=g.x1;v+=g.xn){
    const x=xs(v),isMaj=v%g.xm===0,len=isMaj?8:4;
    mk('line',{x1:x,x2:x,y1:g.B,y2:g.B+len,stroke:'#000',"stroke-width":1},grp);
    mk('line',{x1:x,x2:x,y1:g.T,y2:g.T-len,stroke:'#000',"stroke-width":1},grp);
    if(isMaj){const t=mk('text',{x:x,y:g.B+25,"font-size":13,"text-anchor":"middle"},grp);t.textContent=v.toFixed(g.dec);
      
      }
  }
  const tt=mk('text',{x:g.L,y:g.T-11,"font-size":18},grp);tt.textContent=titles[p];
  
  
  const rt=mk('text',{x:g.R-3,y:g.T-13,"font-size":14,"text-anchor":"end"},grp);
  
  
  rt.appendChild(document.createTextNode(trendVals[p].toFixed(2)+trendUnits[p]+' '+yearCounts[p]+'yr'));
  const sup=mk('tspan',{dy:-6,"font-size":9},rt);sup.textContent='-1';
});
</script>
</body></html>
